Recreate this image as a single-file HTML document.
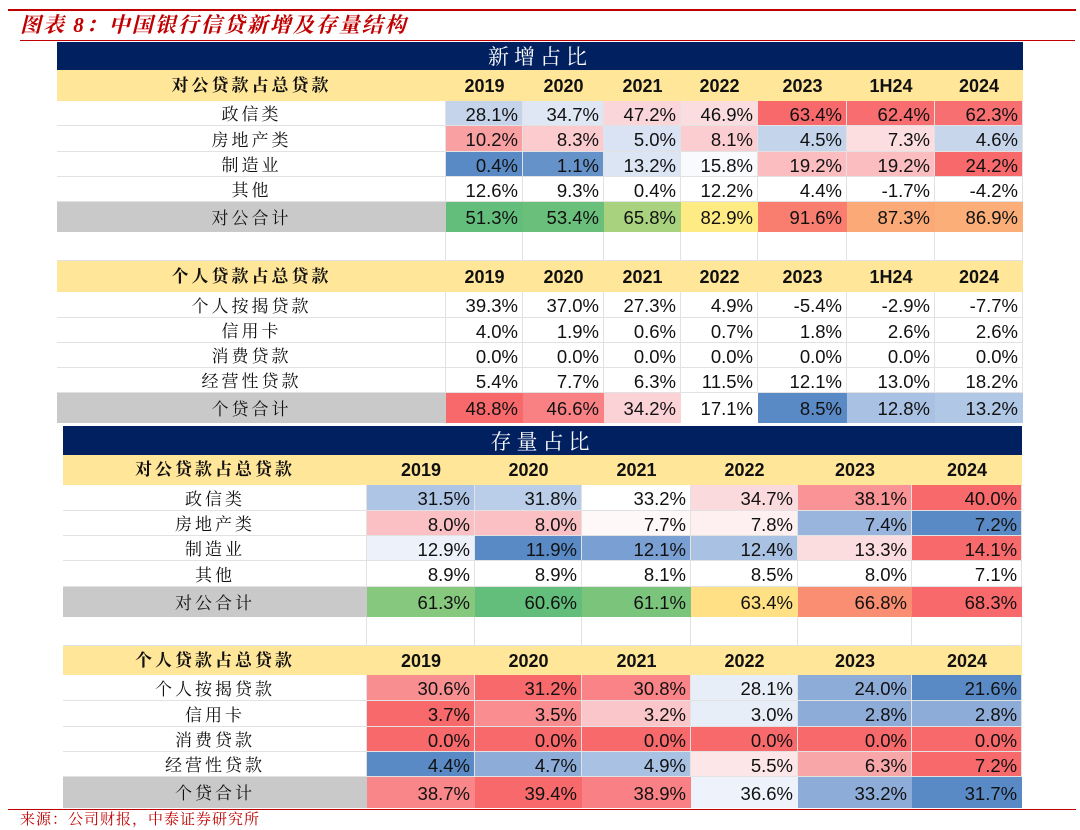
<!DOCTYPE html>
<html><head><meta charset="utf-8"><style>
*{margin:0;padding:0;box-sizing:border-box}
body{width:1080px;height:830px;background:#fff;position:relative;overflow:hidden;font-family:"Liberation Sans","Noto Sans CJK SC",sans-serif}
.title{position:absolute;left:20px;top:11px;font-family:"Liberation Serif","Noto Serif CJK SC",serif;font-style:italic;font-weight:bold;font-size:21px;line-height:28px;color:#C00000;letter-spacing:2px}
.l1{position:absolute;left:8px;top:9px;width:1068px;height:2px;background:#C00000}
.l2{position:absolute;left:20px;top:40px;width:1055px;height:1px;background:#C00000}
.l3{position:absolute;left:8px;top:809px;width:1068px;height:1px;background:#C00000}
.src{position:absolute;left:20px;top:809px;font-family:"Noto Serif CJK SC",serif;font-size:15px;line-height:20px;color:#C00000;letter-spacing:1px}
table{position:absolute;border-collapse:collapse;table-layout:fixed}
td{padding:2px 5px 0 0;text-align:right;font-size:18.5px;line-height:18px;color:#111;box-shadow:inset -1px -1px 0 #e2e2e2;white-space:nowrap;overflow:hidden}
td.l{text-align:center;padding:3px 0 0 0;font-family:"Liberation Serif","Noto Serif CJK SC",serif;font-size:17px;letter-spacing:3px}
tr.n td{background:#002060;color:#fff;text-align:center;font-family:"Noto Serif CJK SC",serif;font-size:21px;letter-spacing:5px;box-shadow:none;padding:0}
tr.h td{background:#FFE699;font-weight:bold;text-align:center;padding:0;box-shadow:none;font-size:18px}
tr.h td.l{font-weight:bold;font-size:17px}
tr.t td.l{background:#C9C9C9}
tr.t td{box-shadow:none}
</style></head><body>
<div class="l1"></div>
<div class="title">图表 8：中国银行信贷新增及存量结构</div>
<div class="l2"></div>

<table style="left:57px;top:42px;width:966px">
<colgroup><col style="width:389px"><col style="width:77px"><col style="width:81px"><col style="width:77px"><col style="width:77px"><col style="width:89px"><col style="width:88px"><col style="width:88px"></colgroup>
<tr class="n" style="height:28px"><td colspan="8">新增占比</td></tr>
<tr class="h" style="height:31px"><td class="l">对公贷款占总贷款</td><td>2019</td><td>2020</td><td>2021</td><td>2022</td><td>2023</td><td>1H24</td><td>2024</td></tr>
<tr style="height:25px"><td class="l">政信类</td><td style="background:#C5D4EB">28.1%</td><td style="background:#DFE7F4">34.7%</td><td style="background:#FAD6DA">47.2%</td><td style="background:#FBDDE0">46.9%</td><td style="background:#F8696B">63.4%</td><td style="background:#F86E70">62.4%</td><td style="background:#F86F71">62.3%</td></tr>
<tr style="height:26px"><td class="l">房地产类</td><td style="background:#F9A0A3">10.2%</td><td style="background:#FCCBCE">8.3%</td><td style="background:#DAE3F3">5.0%</td><td style="background:#FCCDD0">8.1%</td><td style="background:#C4D4EB">4.5%</td><td style="background:#FCDDE0">7.3%</td><td style="background:#C8D6EC">4.6%</td></tr>
<tr style="height:25px"><td class="l">制造业</td><td style="background:#5A8AC6">0.4%</td><td style="background:#6692CA">1.1%</td><td style="background:#DCE5F3">13.2%</td><td style="background:#F9FAFD">15.8%</td><td style="background:#FBBDC0">19.2%</td><td style="background:#FBBDC0">19.2%</td><td style="background:#F8696B">24.2%</td></tr>
<tr style="height:25px"><td class="l">其他</td><td>12.6%</td><td>9.3%</td><td>0.4%</td><td>12.2%</td><td>4.4%</td><td>-1.7%</td><td>-4.2%</td></tr>
<tr class="t" style="height:30px"><td class="l">对公合计</td><td style="background:#63BE7B">51.3%</td><td style="background:#6ABF7B">53.4%</td><td style="background:#A9D27F">65.8%</td><td style="background:#FFEB84">82.9%</td><td style="background:#F97E6F">91.6%</td><td style="background:#FBAA77">87.3%</td><td style="background:#FBAE78">86.9%</td></tr>
<tr style="height:29px"><td class="l"></td><td></td><td></td><td></td><td></td><td></td><td></td><td></td></tr>
<tr class="h" style="height:31px"><td class="l">个人贷款占总贷款</td><td>2019</td><td>2020</td><td>2021</td><td>2022</td><td>2023</td><td>1H24</td><td>2024</td></tr>
<tr style="height:26px"><td class="l">个人按揭贷款</td><td>39.3%</td><td>37.0%</td><td>27.3%</td><td>4.9%</td><td>-5.4%</td><td>-2.9%</td><td>-7.7%</td></tr>
<tr style="height:25px"><td class="l">信用卡</td><td>4.0%</td><td>1.9%</td><td>0.6%</td><td>0.7%</td><td>1.8%</td><td>2.6%</td><td>2.6%</td></tr>
<tr style="height:25px"><td class="l">消费贷款</td><td>0.0%</td><td>0.0%</td><td>0.0%</td><td>0.0%</td><td>0.0%</td><td>0.0%</td><td>0.0%</td></tr>
<tr style="height:25px"><td class="l">经营性贷款</td><td>5.4%</td><td>7.7%</td><td>6.3%</td><td>11.5%</td><td>12.1%</td><td>13.0%</td><td>18.2%</td></tr>
<tr class="t" style="height:30px"><td class="l">个贷合计</td><td style="background:#F8696B">48.8%</td><td style="background:#F98184">46.6%</td><td style="background:#FBD3D6">34.2%</td><td style="background:#FFFFFF">17.1%</td><td style="background:#5A8AC6">8.5%</td><td style="background:#A9C1E3">12.8%</td><td style="background:#B1C7E6">13.2%</td></tr>
</table>

<table style="left:63px;top:426px;width:959px">
<colgroup><col style="width:304px"><col style="width:108px"><col style="width:107px"><col style="width:109px"><col style="width:107px"><col style="width:114px"><col style="width:110px"></colgroup>
<tr class="n" style="height:29px"><td colspan="7">存量占比</td></tr>
<tr class="h" style="height:30px"><td class="l">对公贷款占总贷款</td><td>2019</td><td>2020</td><td>2021</td><td>2022</td><td>2023</td><td>2024</td></tr>
<tr style="height:26px"><td class="l">政信类</td><td style="background:#AFC5E5">31.5%</td><td style="background:#BACDE9">31.8%</td><td>33.2%</td><td style="background:#FBDADD">34.7%</td><td style="background:#F99395">38.1%</td><td style="background:#F8696B">40.0%</td></tr>
<tr style="height:25px"><td class="l">房地产类</td><td style="background:#FBC0C3">8.0%</td><td style="background:#FBC0C3">8.0%</td><td style="background:#FEF8F8">7.7%</td><td style="background:#FEF0F1">7.8%</td><td style="background:#9AB5DD">7.4%</td><td style="background:#5A8AC6">7.2%</td></tr>
<tr style="height:25px"><td class="l">制造业</td><td style="background:#EDF2FA">12.9%</td><td style="background:#5A8AC6">11.9%</td><td style="background:#7A9FD2">12.1%</td><td style="background:#A9C1E3">12.4%</td><td style="background:#FBDCDF">13.3%</td><td style="background:#F8696B">14.1%</td></tr>
<tr style="height:26px"><td class="l">其他</td><td>8.9%</td><td>8.9%</td><td>8.1%</td><td>8.5%</td><td>8.0%</td><td>7.1%</td></tr>
<tr class="t" style="height:30px"><td class="l">对公合计</td><td style="background:#86C87D">61.3%</td><td style="background:#63BE7B">60.6%</td><td style="background:#7BC47C">61.1%</td><td style="background:#FFE084">63.4%</td><td style="background:#FA8E72">66.8%</td><td style="background:#F8696B">68.3%</td></tr>
<tr style="height:29px"><td class="l"></td><td></td><td></td><td></td><td></td><td></td><td></td></tr>
<tr class="h" style="height:29px"><td class="l">个人贷款占总贷款</td><td>2019</td><td>2020</td><td>2021</td><td>2022</td><td>2023</td><td>2024</td></tr>
<tr style="height:26px"><td class="l">个人按揭贷款</td><td style="background:#F98E91">30.6%</td><td style="background:#F8696B">31.2%</td><td style="background:#F98386">30.8%</td><td style="background:#E8EEF8">28.1%</td><td style="background:#8EACD8">24.0%</td><td style="background:#5A8AC6">21.6%</td></tr>
<tr style="height:26px"><td class="l">信用卡</td><td style="background:#F8696B">3.7%</td><td style="background:#F98D90">3.5%</td><td style="background:#FBC6C9">3.2%</td><td style="background:#E8EEF8">3.0%</td><td style="background:#8EACD8">2.8%</td><td style="background:#8EACD8">2.8%</td></tr>
<tr style="height:25px"><td class="l">消费贷款</td><td style="background:#F8696B">0.0%</td><td style="background:#F8696B">0.0%</td><td style="background:#F8696B">0.0%</td><td style="background:#F8696B">0.0%</td><td style="background:#F8696B">0.0%</td><td style="background:#F8696B">0.0%</td></tr>
<tr style="height:25px"><td class="l">经营性贷款</td><td style="background:#5A8AC6">4.4%</td><td style="background:#8EACD8">4.7%</td><td style="background:#A9C1E3">4.9%</td><td style="background:#FDE6E8">5.5%</td><td style="background:#F9A6A9">6.3%</td><td style="background:#F8696B">7.2%</td></tr>
<tr class="t" style="height:31px"><td class="l">个贷合计</td><td style="background:#F98689">38.7%</td><td style="background:#F8696B">39.4%</td><td style="background:#F98185">38.9%</td><td style="background:#EEF2FA">36.6%</td><td style="background:#8EACD8">33.2%</td><td style="background:#5A8AC6">31.7%</td></tr>
</table>

<div class="l3"></div>
<div class="src">来源：公司财报，中泰证券研究所</div>
</body></html>
